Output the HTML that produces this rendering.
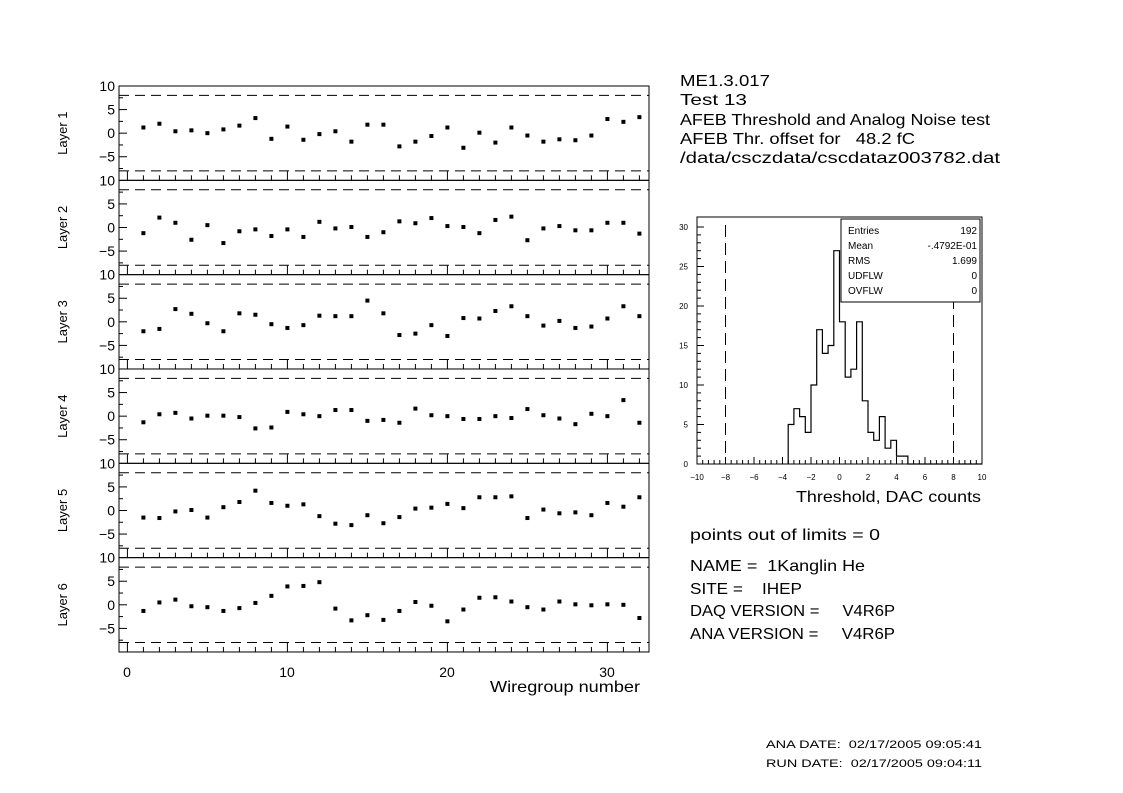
<!DOCTYPE html>
<html><head><meta charset="utf-8">
<style>html,body{margin:0;padding:0;background:#fff}svg{display:block}text{font-family:"Liberation Sans",sans-serif;fill:#000;white-space:pre}</style>
</head><body>
<svg id="s" width="1123" height="793" viewBox="0 0 1123 793" xmlns="http://www.w3.org/2000/svg">
<rect width="1123" height="793" fill="#fff"/>
<g font-size="16">
<text x="680" y="86" textLength="90" lengthAdjust="spacingAndGlyphs">ME1.3.017</text>
<text x="680" y="105" textLength="67" lengthAdjust="spacingAndGlyphs">Test 13</text>
<text x="680" y="125" textLength="310" lengthAdjust="spacingAndGlyphs">AFEB Threshold and Analog Noise test</text>
<text x="680" y="144" textLength="235" lengthAdjust="spacingAndGlyphs">AFEB Thr. offset for   48.2 fC</text>
<text x="680" y="163" textLength="320" lengthAdjust="spacingAndGlyphs">/data/csczdata/cscdataz003782.dat</text>
<text x="690" y="540" textLength="190" lengthAdjust="spacingAndGlyphs">points out of limits = 0</text>
<text x="690" y="571" textLength="175" lengthAdjust="spacingAndGlyphs">NAME =  1Kanglin He</text>
<text x="690" y="594" textLength="112" lengthAdjust="spacingAndGlyphs">SITE =    IHEP</text>
<text x="690" y="616" textLength="205" lengthAdjust="spacingAndGlyphs">DAQ VERSION =     V4R6P</text>
<text x="690" y="639" textLength="205" lengthAdjust="spacingAndGlyphs">ANA VERSION =     V4R6P</text>
<text x="490" y="692" textLength="150" lengthAdjust="spacingAndGlyphs">Wiregroup number</text>
<text x="796" y="502" textLength="185" lengthAdjust="spacingAndGlyphs">Threshold, DAC counts</text>
</g>
<g font-size="11">
<text x="766" y="748" textLength="216" lengthAdjust="spacingAndGlyphs">ANA DATE:  02/17/2005 09:05:41</text>
<text x="766" y="767" textLength="216" lengthAdjust="spacingAndGlyphs">RUN DATE:  02/17/2005 09:04:11</text>
</g>
<g font-size="14" text-anchor="middle">
<text x="127" y="677">0</text><text x="287" y="677">10</text><text x="447" y="677">20</text><text x="607" y="677">30</text>
</g>
<g id="plots"></g>
<g font-size="10">
<text x="848" y="234">Entries</text><text x="977" y="234" text-anchor="end">192</text>
<text x="848" y="249">Mean</text><text x="977" y="249" text-anchor="end">-.4792E-01</text>
<text x="848" y="264">RMS</text><text x="977" y="264" text-anchor="end">1.699</text>
<text x="848" y="279">UDFLW</text><text x="977" y="279" text-anchor="end">0</text>
<text x="848" y="294">OVFLW</text><text x="977" y="294" text-anchor="end">0</text>
</g>
</svg>
<script>
(function(){
var g=document.getElementById('plots'),NS='http://www.w3.org/2000/svg';
function el(t,a,txt){var e=document.createElementNS(NS,t);for(var k in a)e.setAttribute(k,a[k]);if(txt!==undefined)e.textContent=txt;g.appendChild(e);return e;}
function ln(x1,y1,x2,y2,d){var a={x1:x1,y1:y1,x2:x2,y2:y2,stroke:'#000','stroke-width':1};if(d)a['stroke-dasharray']=d;el('line',a);}
var data=[
[1.2,2,0.4,0.6,0,0.8,1.6,3.2,-1.2,1.4,-1.4,-0.2,0.4,-1.8,1.8,1.8,-2.8,-1.8,-0.6,1.2,-3.1,0.1,-2,1.2,-0.5,-1.8,-1.3,-1.5,-0.5,3,2.4,3.4],
[-1.2,2.1,1,-2.6,0.5,-3.3,-0.8,-0.4,-1.8,-0.4,-2,1.2,-0.2,0.1,-2,-1,1.3,0.9,2,0.3,0.1,-1.2,1.6,2.3,-2.7,-0.2,0.3,-0.6,-0.6,1,1,-1.3],
[-2,-1.5,2.7,1.7,-0.3,-2,1.8,1.5,-0.5,-1.3,-0.7,1.3,1.2,1.2,4.5,1.8,-2.8,-2.5,-0.7,-3,0.8,0.7,2.3,3.3,1.2,-0.8,0.2,-1.3,-1,0.7,3.3,1.2],
[-1.3,0.4,0.7,-0.5,0.1,0.1,-0.2,-2.6,-2.4,0.9,0.4,0,1.3,1.3,-1,-0.8,-1.4,1.6,0.2,0,-0.6,-0.6,0,-0.4,1.5,0.2,-0.5,-1.7,0.5,0,3.4,-1.4],
[-1.5,-1.6,-0.2,0.1,-1.5,0.7,1.8,4.2,1.6,1,1.3,-1.2,-2.8,-3.1,-1,-2.7,-1.4,0.4,0.6,1.4,0.5,2.8,2.8,3,-1.6,0.2,-0.6,-0.4,-1,1.6,0.8,2.8],
[-1.3,0.5,1.1,-0.3,-0.5,-1.3,-0.7,0.4,1.9,3.9,4,4.8,-0.8,-3.3,-2.2,-3.2,-1.3,0.6,-0.2,-3.5,-1,1.5,1.6,0.7,-0.5,-1,0.7,0.1,-0.1,0.1,0,-2.8]];
var L=119,R=649,T0=86,H=94.33;
function X(v){return 127.4+16*v;}
for(var p=0;p<6;p++){
 var tp=T0+p*H,bt=tp+H;
 var Y=(function(t){return function(v){return t+(10-v)/20*H;};})(tp);
 el('rect',{x:L,y:tp,width:R-L,height:H,fill:'none',stroke:'#000','stroke-width':1});
 ln(L,Y(8),R,Y(8),'10,6');ln(L,Y(-8),R,Y(-8),'10,6');
 [5,0,-5].forEach(function(v){ln(L,Y(v),L+8,Y(v));});
 [7.5,2.5,-2.5,-7.5].forEach(function(v){ln(L,Y(v),L+4,Y(v));});
 for(var i=0;i<=32;i++)ln(X(i),bt,X(i),bt-(i%10==0?9:5));
 el('text',{x:115,y:Y(10)+5,'font-size':14,'text-anchor':'end'},'10');
 el('text',{x:115,y:Y(5)+5,'font-size':14,'text-anchor':'end'},'5');
 el('text',{x:115,y:Y(0)+5,'font-size':14,'text-anchor':'end'},'0');
 el('text',{x:115,y:Y(-5)+5,'font-size':14,'text-anchor':'end'},'\u22125');
 el('text',{x:0,y:0,'font-size':13,transform:'translate(67,'+(tp+H/2)+') rotate(-90)','text-anchor':'middle'},'Layer '+(p+1));
 data[p].forEach(function(v,i){el('rect',{x:X(i+1)-2,y:Y(v)-2,width:4,height:4,fill:'#000'});});
}
var hL=697,hR=982,hT=217,hB=464;
function hx(v){return hL+(v+10)/20*(hR-hL);}function hy(c){return hB-c*7.9;}
el('rect',{x:hL,y:hT,width:hR-hL,height:hB-hT,fill:'none',stroke:'#000'});
var bins=[5,7,6,4,10,17,14,15,27,18,11,12,18,8,4,3,6,2,3,1,1];
var d='M'+hx(-3.6)+','+hB;
bins.forEach(function(c,i){var a=-3.6+0.4*i,b=a+0.4;d+=' L'+hx(a)+','+hy(c)+' L'+hx(b)+','+hy(c);});
d+=' L'+hx(4.8)+','+hB+' L'+hR+','+hB;
el('path',{d:d,fill:'none',stroke:'#000','stroke-width':1.2});
ln(hx(-8),hT+8,hx(-8),hB,'12,6');ln(hx(8),hT+8,hx(8),hB,'12,6');
el('rect',{x:841,y:219,width:139,height:83,fill:'#fff',stroke:'#000'});
for(var i=0;i<=50;i++){var v=-10+i*0.4;ln(hx(v),hB,hx(v),hB-(i%5==0?7:4));}
for(var c=0;c<=30;c++)ln(hL,hy(c),hL+(c%5==0?7:4),hy(c));
for(var c=0;c<=30;c+=5)el('text',{x:688,y:hy(c)+3,'font-size':8,'text-anchor':'end'},''+c);
for(var v=-10;v<=10;v+=2)el('text',{x:hx(v),y:480,'font-size':8,'text-anchor':'middle'},(v<0?'\u2212':'')+Math.abs(v));
})();
</script>
</body></html>
